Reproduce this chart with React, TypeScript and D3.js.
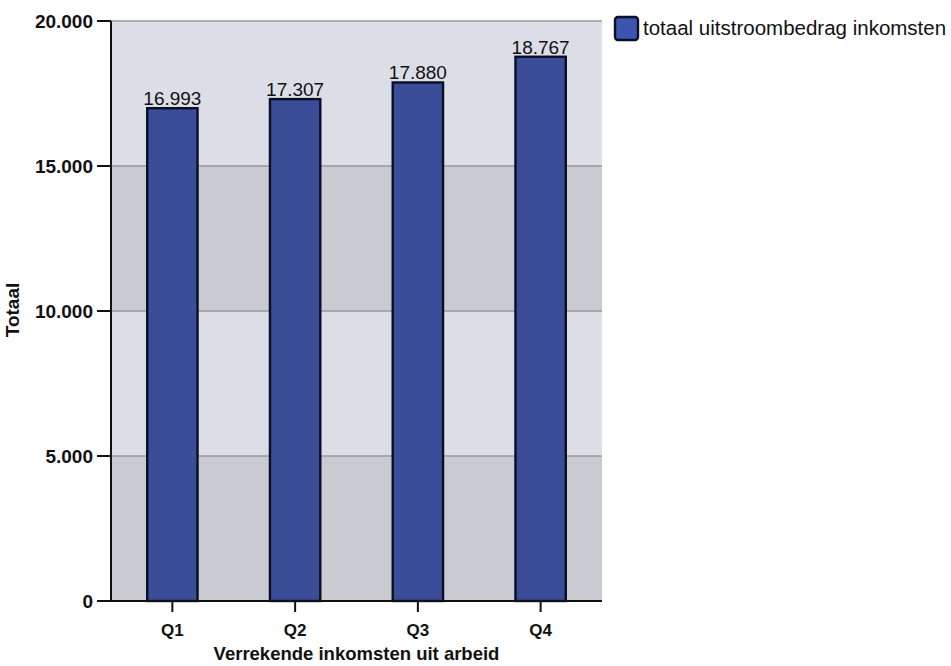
import React from "react";
import * as d3 from "d3";

const categories = ["Q1", "Q2", "Q3", "Q4"];
const values = [16993, 17307, 17880, 18767];
const yTicks = [0, 5000, 10000, 15000, 20000];
const seriesName = "totaal uitstroombedrag inkomsten";
const xTitle = "Verrekende inkomsten uit arbeid";
const yTitle = "Totaal";

const W = 951, H = 666;
const M = { left: 111, right: 602, top: 21, bottom: 601 };
const font = "Liberation Sans, Arial, sans-serif";
const fmt = (v: number) => d3.format(",")(v).replace(/,/g, ".");

export default function App() {
  const x = d3.scaleBand().domain(categories).range([M.left, M.right]).paddingInner(0.59).paddingOuter(0.295);
  const y = d3.scaleLinear().domain([0, 20000]).range([M.bottom, M.top]);
  const bands = yTicks.slice(0, -1).map((t, i) => ({ lo: t, hi: yTicks[i + 1], i }));
  return (
    <svg width={W} height={H} style={{ position: "absolute", left: 0, top: 0, background: "#fff" }}>
      {bands.map(b => (
        <rect key={b.lo} x={M.left} width={M.right - M.left} y={y(b.hi)} height={y(b.lo) - y(b.hi)}
          fill={b.i % 2 === 0 ? "#c9cbd0" : "#dbdee7"} />
      ))}
      {yTicks.slice(1).map(t => (
        <line key={t} x1={M.left} x2={M.right} y1={y(t)} y2={y(t)} stroke="#98999c" strokeWidth={1.3} />
      ))}
      {categories.map((c, i) => (
        <rect key={c} x={x(c)!} width={x.bandwidth()} y={y(values[i])} height={y(0) - y(values[i])}
          fill="#3b4c98" stroke="#0b0f22" strokeWidth={2.4} />
      ))}
      {categories.map((c, i) => (
        <text key={c} x={x(c)! + x.bandwidth() / 2} y={y(values[i]) - 3} textAnchor="middle"
          fontFamily={font} fontSize={19} fill="#111">{fmt(values[i])}</text>
      ))}
      <line x1={M.left} x2={M.left} y1={M.top} y2={M.bottom} stroke="#111" strokeWidth={2} />
      <line x1={M.left} x2={M.right} y1={M.bottom} y2={M.bottom} stroke="#111" strokeWidth={2} />
      {yTicks.map(t => (
        <g key={t}>
          <line x1={M.left - 14} x2={M.left} y1={y(t)} y2={y(t)} stroke="#111" strokeWidth={2} />
          <text x={M.left - 18} y={y(t) + 7} textAnchor="end" fontFamily={font} fontWeight="bold"
            fontSize={19} fill="#111">{fmt(t)}</text>
        </g>
      ))}
      {categories.map(c => (
        <g key={c}>
          <line x1={x(c)! + x.bandwidth() / 2} x2={x(c)! + x.bandwidth() / 2} y1={M.bottom} y2={M.bottom + 11}
            stroke="#111" strokeWidth={2} />
          <text x={x(c)! + x.bandwidth() / 2} y={636} textAnchor="middle" fontFamily={font}
            fontWeight="bold" fontSize={17} fill="#111">{c}</text>
        </g>
      ))}
      <text x={356.5} y={660} textAnchor="middle" fontFamily={font} fontWeight="bold"
        fontSize={18.5} fill="#111">{xTitle}</text>
      <text transform={`translate(19,310) rotate(-90)`} textAnchor="middle"
        fontFamily={font} fontWeight="bold" fontSize={19} fill="#111">{yTitle}</text>
      <rect x={615} y={17} width={23} height={23} rx={3} fill="#3b55b0" stroke="#0b0f22" strokeWidth={2.4} />
      <text x={643} y={35} fontFamily={font} fontSize={20.5} fill="#111">{seriesName}</text>
    </svg>
  );
}
